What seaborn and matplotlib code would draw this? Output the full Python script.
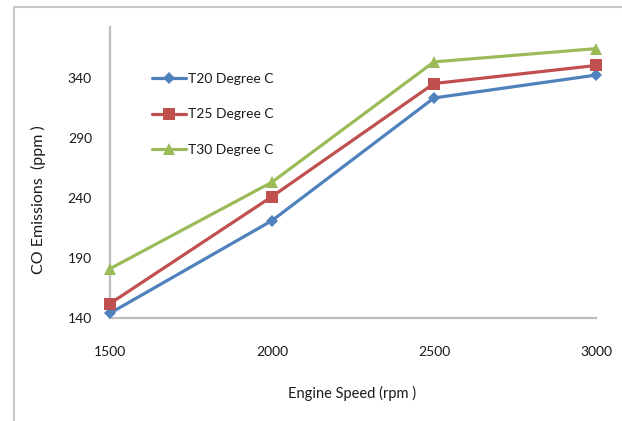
import matplotlib
matplotlib.use("Agg")
import matplotlib.pyplot as plt
from matplotlib.patches import Rectangle
import seaborn as sns
import pandas as pd

speeds = [1500, 2000, 2500, 3000]
t20 = [144, 221, 323, 342]
t25 = [152, 241, 335, 350]
t30 = [181, 253, 353, 364]
series_names = ["T20 Degree C", "T25 Degree C", "T30 Degree C"]
y_ticks = [140, 190, 240, 290, 340]

frames = []
for name, vals in zip(series_names, [t20, t25, t30]):
    frames.append(pd.DataFrame({"speed": speeds, "co": vals, "series": name}))
df = pd.concat(frames, ignore_index=True)

sns.set_style("white")
plt.rcParams["font.family"] = ["Lato", "DejaVu Sans"]

fig = plt.figure(figsize=(6.22, 4.21), dpi=100)
ax = fig.add_axes([110 / 622, 1 - 318 / 421, (596 - 110) / 622, (318 - 27) / 421])

palette = {"T20 Degree C": "#4F81BD", "T25 Degree C": "#C0504D", "T30 Degree C": "#9BBB59"}
markers = {"T20 Degree C": "D", "T25 Degree C": "s", "T30 Degree C": "^"}
sizes = {"T20 Degree C": 6.5, "T25 Degree C": 8.5, "T30 Degree C": 8.5}

for name in series_names:
    sub = df[df["series"] == name]
    sns.lineplot(data=sub, x="speed", y="co", ax=ax, color=palette[name],
                 marker=markers[name], markersize=sizes[name], markeredgewidth=0,
                 linewidth=2.3, label=name, clip_on=False, zorder=3)

ax.set_xlim(1500, 3000)
ax.set_ylim(140, 382)
ax.set_xticks(speeds)
ax.set_yticks(y_ticks)
ax.tick_params(axis="x", length=0, pad=20, labelsize=10, labelcolor="#1A1A1A")
ax.tick_params(axis="y", length=0, pad=13, labelsize=10, labelcolor="#1A1A1A")

for side in ["top", "right"]:
    ax.spines[side].set_visible(False)
for side in ["left", "bottom"]:
    ax.spines[side].set_color("#BEBEBE")
    ax.spines[side].set_linewidth(1.6)

ax.set_xlabel("Engine Speed (rpm )", fontsize=10.5, color="#1A1A1A")
ax.set_ylabel("CO Emissions  (ppm )", fontsize=11.5, color="#1A1A1A")
ax.xaxis.set_label_coords((352 - 110) / (596 - 110), -(392 - 318) / (318 - 27) + 0.02)
ax.yaxis.set_label_coords(-(110 - 46) / (596 - 110), (318 - 200) / (318 - 27))

leg = ax.legend(loc="upper left", bbox_to_anchor=((146 - 110) / (596 - 110), 1 - (67 - 27) / (318 - 27)),
                frameon=False, fontsize=10, handlelength=2.5, handletextpad=0.1,
                labelspacing=1.72, borderaxespad=0)
for t in leg.get_texts():
    t.set_color("#1A1A1A")

# light frame around the chart area
fig.patches.append(Rectangle((14 / 622, -0.05), 1.2, 1 - 7 / 421 + 0.05,
                             transform=fig.transFigure, fill=False,
                             edgecolor="#C8C8C8", linewidth=1.5))

fig.savefig("out.png", dpi=100)
